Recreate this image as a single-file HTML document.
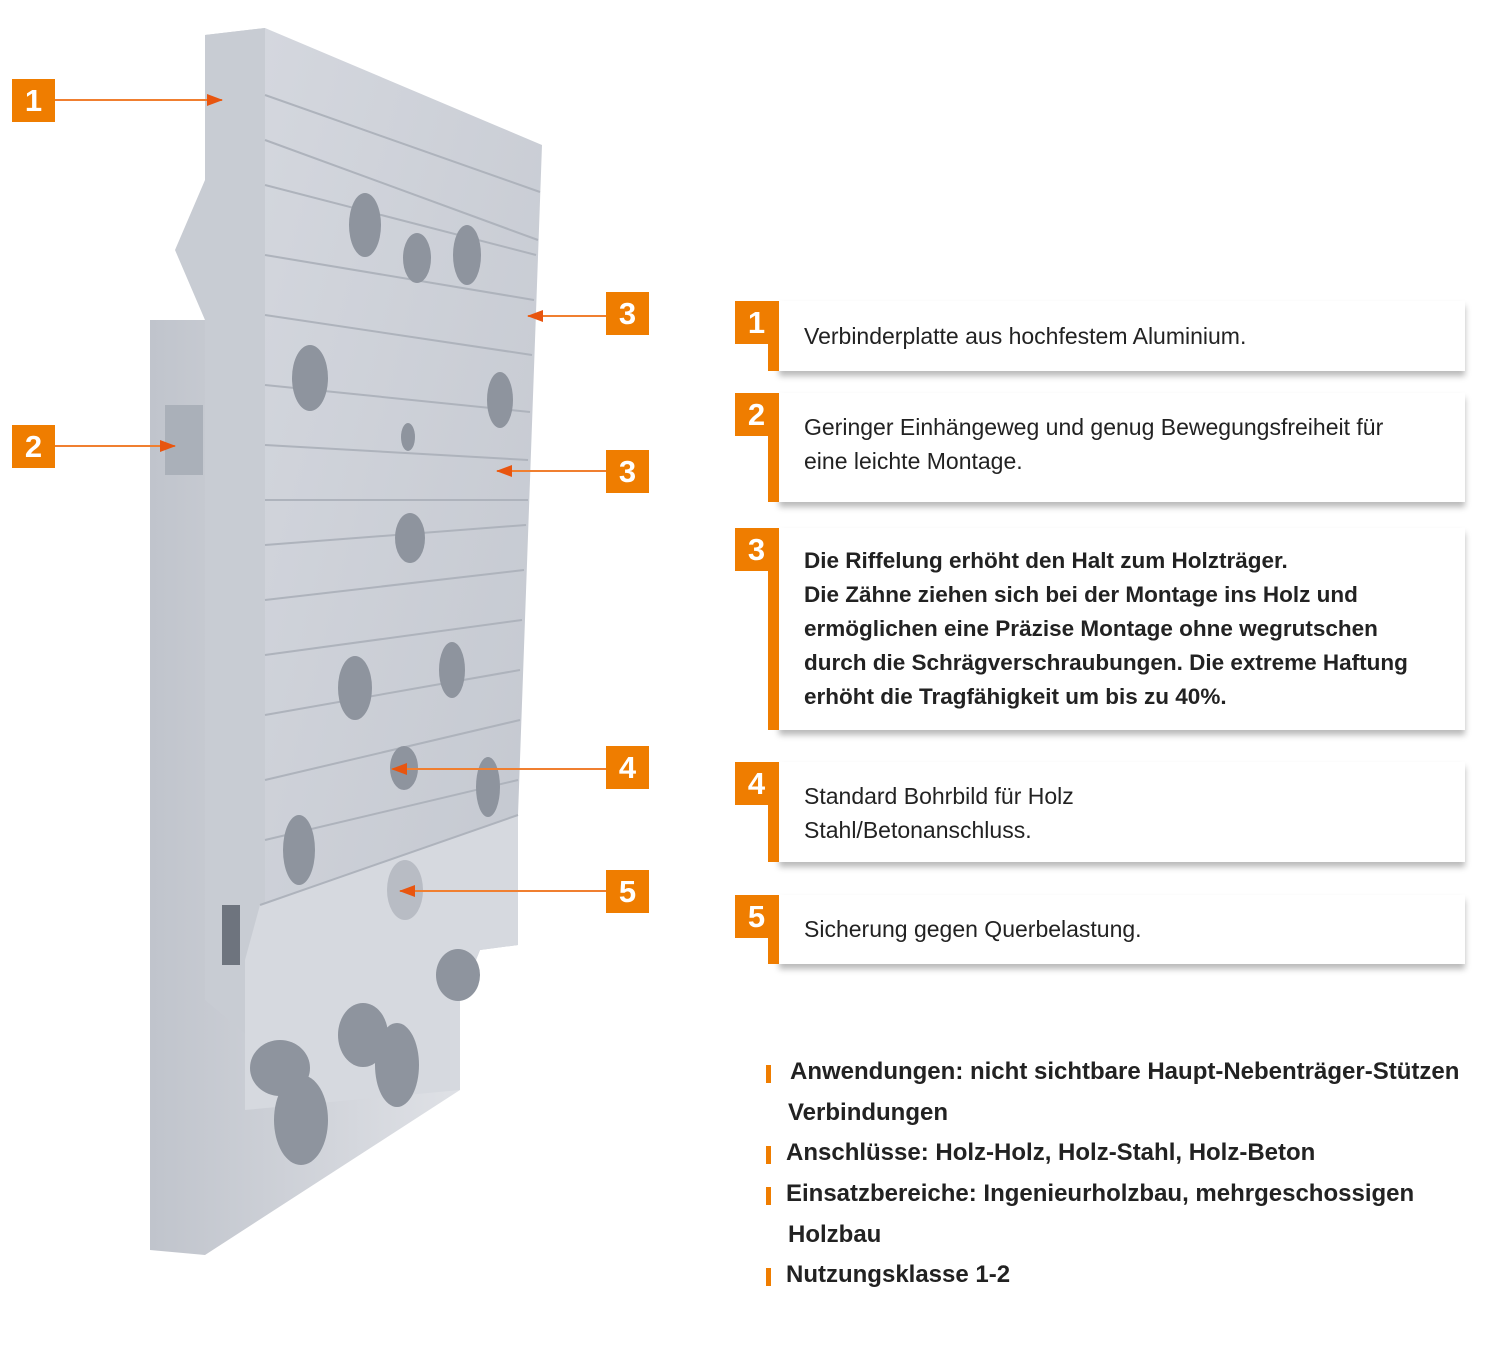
<!DOCTYPE html>
<html><head><meta charset="utf-8"><style>
body{margin:0;width:1500px;height:1367px;background:#fff;position:relative;overflow:hidden;font-family:"Liberation Sans",sans-serif}
.b{position:absolute;width:43px;height:43px;background:#ef7d00;color:#fff;font-weight:bold;font-size:31px;text-align:center;line-height:44px}
.card{position:absolute;left:779px;width:686px;background:#fff;box-shadow:0 5px 6px rgba(0,0,0,.28);font-size:23px;color:#222;line-height:34px;box-sizing:border-box;padding-left:25px}
.bar{position:absolute;left:768px;width:11px;background:#ef7d00}
.bl{position:absolute;left:766px;font-weight:bold;font-size:24px;color:#222}
.bl i{position:absolute;left:0;top:7px;width:5px;height:18px;background:#ef7d00}
</style></head><body>
<svg width="700" height="1367" style="position:absolute;left:0;top:0">
<defs>
<linearGradient id="g1" x1="0" y1="0" x2="1" y2="1"><stop offset="0" stop-color="#d4d7de"/><stop offset="1" stop-color="#c3c7cf"/></linearGradient>
<linearGradient id="g2" x1="0" y1="0" x2="1" y2="0"><stop offset="0" stop-color="#c0c4cc"/><stop offset="1" stop-color="#dfe1e6"/></linearGradient>
<marker id="a" markerWidth="8" markerHeight="8" refX="7" refY="4" orient="auto" markerUnits="userSpaceOnUse"><path d="M0,0 L8,4 L0,8Z" fill="#e8550f"/></marker>
<marker id="a2" markerWidth="16" markerHeight="12" refX="15" refY="6" orient="auto" markerUnits="userSpaceOnUse"><path d="M0,0 L16,6 L0,12Z" fill="#e8550f"/></marker>
</defs>
<polygon points="205,35 265,28 265,180 230,300 205,320 150,320 150,1250 205,1255 460,1090 460,1000 265,1050" fill="url(#g2)"/>
<polygon points="205,35 265,28 265,1050 205,1000 205,320 175,250 205,180" fill="#c8ccd3"/>
<polygon points="265,28 542,145 518,815 518,945 480,950 460,1000 460,1090 265,1050" fill="url(#g1)"/>
<polygon points="260,905 518,815 518,945 480,950 460,1000 460,1090 245,1110 245,960" fill="#d6d9df"/>
<g stroke="#aeb3bc" stroke-width="2" fill="none">
<line x1="265" y1="95" x2="540" y2="192"/><line x1="265" y1="140" x2="538" y2="240"/><line x1="265" y1="185" x2="536" y2="255"/>
<line x1="265" y1="255" x2="534" y2="300"/><line x1="265" y1="315" x2="532" y2="355"/><line x1="265" y1="385" x2="530" y2="412"/>
<line x1="265" y1="445" x2="528" y2="460"/><line x1="265" y1="500" x2="528" y2="500"/><line x1="265" y1="545" x2="526" y2="525"/>
<line x1="265" y1="600" x2="524" y2="570"/><line x1="265" y1="655" x2="522" y2="620"/><line x1="265" y1="715" x2="520" y2="670"/>
<line x1="265" y1="780" x2="520" y2="720"/><line x1="265" y1="840" x2="518" y2="780"/><line x1="260" y1="905" x2="518" y2="815"/>
</g>
<g fill="#8e949e">
<ellipse cx="365" cy="225" rx="16" ry="32"/><ellipse cx="417" cy="258" rx="14" ry="25"/><ellipse cx="467" cy="255" rx="14" ry="30"/>
<ellipse cx="310" cy="378" rx="18" ry="33"/><ellipse cx="500" cy="400" rx="13" ry="28"/><ellipse cx="408" cy="437" rx="7" ry="14"/>
<ellipse cx="410" cy="538" rx="15" ry="25"/><ellipse cx="355" cy="688" rx="17" ry="32"/><ellipse cx="452" cy="670" rx="13" ry="28"/>
<ellipse cx="404" cy="768" rx="14" ry="22"/><ellipse cx="488" cy="787" rx="12" ry="30"/><ellipse cx="299" cy="850" rx="16" ry="35"/>
<ellipse cx="405" cy="890" rx="18" ry="30" fill="#b8bcc4"/>
<ellipse cx="458" cy="975" rx="22" ry="26"/><ellipse cx="363" cy="1035" rx="25" ry="32"/><ellipse cx="397" cy="1065" rx="22" ry="42"/>
<ellipse cx="280" cy="1068" rx="30" ry="28"/><ellipse cx="301" cy="1120" rx="27" ry="45"/>
<rect x="165" y="405" width="38" height="70" fill="#aab0b9"/><rect x="222" y="905" width="18" height="60" fill="#6e747e"/>
</g>
<g stroke="#f07f30" stroke-width="2">
<line x1="54" y1="100" x2="222" y2="100" marker-end="url(#a2)"/>
<line x1="54" y1="446" x2="175" y2="446" marker-end="url(#a2)"/>
<line x1="606" y1="316" x2="528" y2="316" marker-end="url(#a2)"/>
<line x1="606" y1="471" x2="497" y2="471" marker-end="url(#a2)"/>
<line x1="606" y1="769" x2="392" y2="769" marker-end="url(#a2)"/>
<line x1="606" y1="891" x2="400" y2="891" marker-end="url(#a2)"/>
</g>
</svg>
<div class="b" style="left:12px;top:79px">1</div>
<div class="b" style="left:12px;top:425px">2</div>
<div class="b" style="left:606px;top:292px">3</div>
<div class="b" style="left:606px;top:450px">3</div>
<div class="b" style="left:606px;top:746px">4</div>
<div class="b" style="left:606px;top:870px">5</div>

<div class="card" style="top:301px;height:70px;padding-top:18px">Verbinderplatte aus hochfestem Aluminium.</div>
<div class="bar" style="top:301px;height:70px"></div><div class="b" style="left:735px;top:301px">1</div>

<div class="card" style="top:393px;height:109px;padding-top:17px">Geringer Einhängeweg und genug Bewegungsfreiheit für<br>eine leichte Montage.</div>
<div class="bar" style="top:393px;height:109px"></div><div class="b" style="left:735px;top:393px">2</div>

<div class="card" style="top:528px;height:202px;padding-top:16px;font-weight:bold;font-size:22.5px">Die Riffelung erhöht den Halt zum Holzträger.<br>Die Zähne ziehen sich bei der Montage ins Holz und<br>ermöglichen eine Präzise Montage ohne wegrutschen<br>durch die Schrägverschraubungen. Die extreme Haftung<br>erhöht die Tragfähigkeit um bis zu 40%.</div>
<div class="bar" style="top:528px;height:202px"></div><div class="b" style="left:735px;top:528px">3</div>

<div class="card" style="top:762px;height:100px;padding-top:17px">Standard Bohrbild für Holz<br>Stahl/Betonanschluss.</div>
<div class="bar" style="top:762px;height:100px"></div><div class="b" style="left:735px;top:762px">4</div>

<div class="card" style="top:895px;height:69px;padding-top:17px">Sicherung gegen Querbelastung.</div>
<div class="bar" style="top:895px;height:69px"></div><div class="b" style="left:735px;top:895px">5</div>

<div class="bl" style="top:1058px"><i></i><span style="margin-left:24px">Anwendungen: nicht sichtbare Haupt-Nebenträger-Stützen</span></div>
<div class="bl" style="top:1099px"><span style="margin-left:22px">Verbindungen</span></div>
<div class="bl" style="top:1139px"><i></i><span style="margin-left:20px">Anschlüsse: Holz-Holz, Holz-Stahl, Holz-Beton</span></div>
<div class="bl" style="top:1180px"><i></i><span style="margin-left:20px">Einsatzbereiche: Ingenieurholzbau, mehrgeschossigen</span></div>
<div class="bl" style="top:1221px"><span style="margin-left:22px">Holzbau</span></div>
<div class="bl" style="top:1261px"><i></i><span style="margin-left:20px">Nutzungsklasse 1-2</span></div>
</body></html>
